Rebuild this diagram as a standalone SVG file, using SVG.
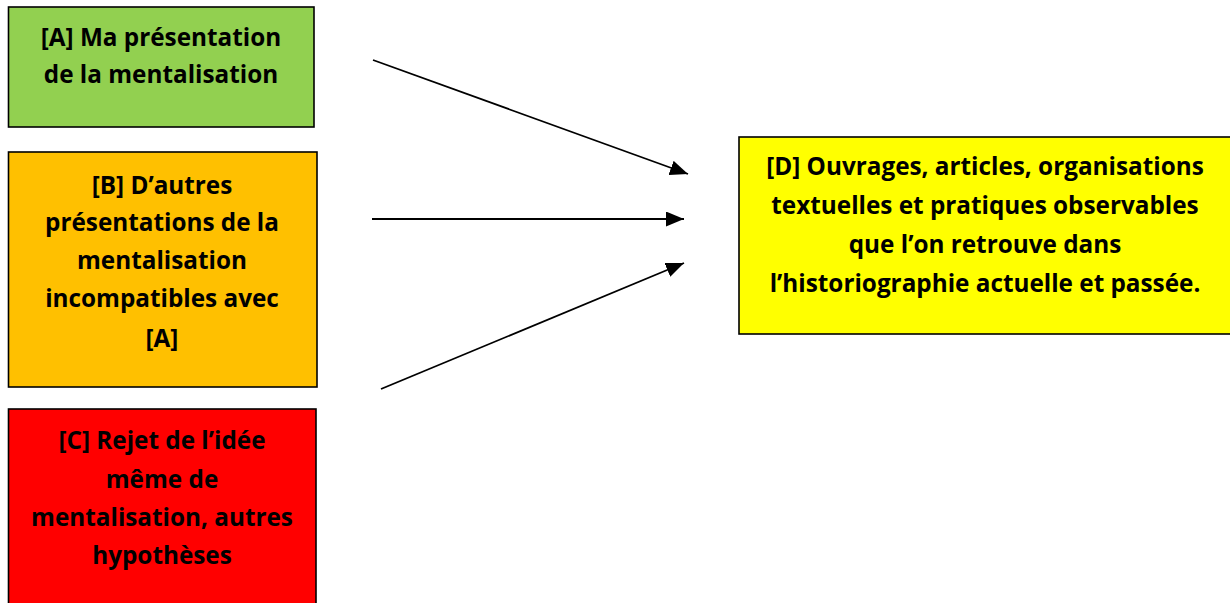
<svg xmlns="http://www.w3.org/2000/svg" width="1230" height="603" viewBox="0 0 1230 603">
<style>
.box{stroke:#000;stroke-width:1.6}
.t{font-family:"Open Sans","Liberation Sans",Arial,sans-serif;font-weight:bold;font-size:24.3px;fill:#000;text-anchor:middle}
.c{stroke:#000;stroke-width:1.8;fill:none;marker-end:url(#ah)}
</style>
<defs>
<marker id="ah" markerWidth="18" markerHeight="15" refX="18" refY="7.5" orient="auto" markerUnits="userSpaceOnUse">
<path d="M0,0 L18,7.5 L0,15 Z" fill="#000"/>
</marker>
</defs>
<rect width="1230" height="603" fill="#fff"/>
<g id="nodeA">
<rect class="box" x="8.5" y="7" width="305.5" height="120" fill="#92D050"/>
<text class="t" x="161" y="45.5">[A] Ma présentation</text>
<text class="t" x="161" y="82.5">de la mentalisation</text>
</g>
<g id="nodeB">
<rect class="box" x="8.5" y="152" width="308.5" height="235" fill="#FFC000"/>
<text class="t" x="162" y="193.5">[B] D’autres</text>
<text class="t" x="162" y="230.5">présentations de la</text>
<text class="t" x="162" y="268.5">mentalisation</text>
<text class="t" x="162" y="306.5">incompatibles avec</text>
<text class="t" x="162" y="346.5">[A]</text>
</g>
<g id="nodeC">
<rect class="box" x="8.5" y="409" width="307.5" height="200" fill="#FF0000"/>
<text class="t" x="162" y="448.5">[C] Rejet de l’idée</text>
<text class="t" x="162" y="487.5">même de</text>
<text class="t" x="162" y="525.5">mentalisation, autres</text>
<text class="t" x="162" y="563.5">hypothèses</text>
</g>
<g id="nodeD">
<rect class="box" x="739" y="137" width="500" height="197" fill="#FFFF00"/>
<text class="t" x="985" y="174.5">[D] Ouvrages, articles, organisations</text>
<text class="t" x="985" y="213.5">textuelles et pratiques observables</text>
<text class="t" x="985" y="252.5">que l’on retrouve dans</text>
<text class="t" x="985" y="291.5">l’historiographie actuelle et passée.</text>
</g>
<g id="connectors">
<line class="c" x1="373" y1="60" x2="688" y2="174"/>
<line class="c" x1="372" y1="219" x2="684" y2="219"/>
<line class="c" x1="381" y1="389" x2="684" y2="263"/>
</g>
</svg>
